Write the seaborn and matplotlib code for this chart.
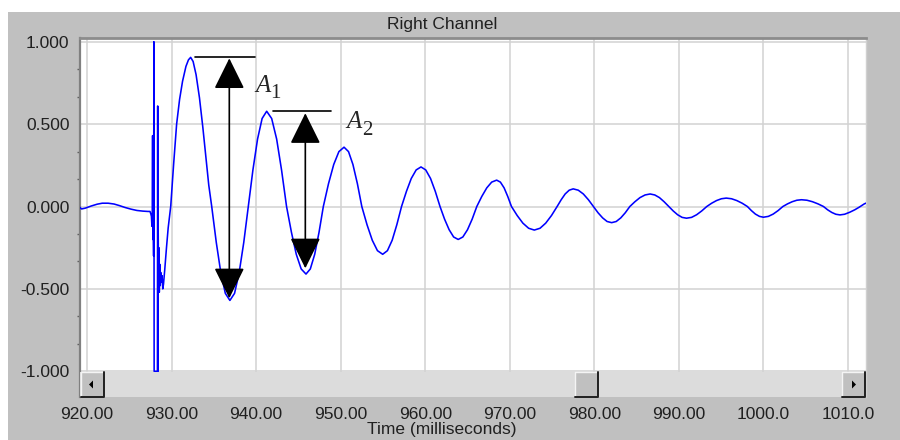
import numpy as np
import pandas as pd
import matplotlib
matplotlib.use("Agg")
import matplotlib.pyplot as plt
from matplotlib.patches import Rectangle, Polygon, ArrowStyle
from matplotlib.ticker import MultipleLocator, FixedLocator
import seaborn as sns

# ---------------- data ----------------
time_ms = [
    919.15, 919.35, 919.8, 920.5, 921.2, 921.8, 922.5, 923.2, 923.8, 924.5,
    925.2, 925.9, 926.6, 927.2, 927.45, 927.55, 927.62, 927.68, 927.72, 927.76,
    927.79, 927.84, 927.88, 927.91, 927.94, 928.05, 928.15, 928.25, 928.33, 928.36,
    928.39, 928.42, 928.46, 928.50, 928.55, 928.60, 928.66, 928.72, 928.80, 928.88,
    928.96, 929.05, 929.2, 929.4, 929.6, 929.9, 930.25, 930.6, 930.95, 931.3,
    931.7, 932.0, 932.26, 932.55, 932.9, 933.3, 933.7, 934.1, 934.4, 934.75,
    935.29, 935.83, 936.36, 936.9, 937.45, 937.99, 938.54, 939.08, 939.62, 940.17,
    940.71, 941.25, 941.84, 942.43, 943.01, 943.6, 944.18, 944.75, 945.33, 945.9,
    946.41, 946.93, 947.44, 947.95, 948.56, 949.18, 949.79, 950.4, 950.93, 951.45,
    951.98, 952.5, 953.12, 953.74, 954.35, 954.97, 955.53, 956.09, 956.64, 957.2,
    957.78, 958.35, 958.93, 959.5, 960.06, 960.63, 961.19, 961.75, 962.29, 962.83,
    963.36, 963.9, 964.45, 965.0, 965.55, 966.1, 966.69, 967.28, 967.86, 968.45,
    968.89, 969.33, 969.76, 970.2, 970.88, 971.55, 972.23, 972.9, 973.58, 974.25,
    974.93, 975.6, 976.08, 976.55, 977.03, 977.5, 978.1, 978.7, 979.3, 979.9,
    980.44, 980.98, 981.51, 982.05, 982.59, 983.13, 983.66, 984.2, 984.8, 985.4,
    986.0, 986.6, 987.15, 987.7, 988.25, 988.8, 989.33, 989.85, 990.38, 990.9,
    991.5, 992.1, 992.7, 993.3, 993.88, 994.45, 995.03, 995.6, 996.23, 996.85,
    997.48, 998.1, 998.58, 999.05, 999.53, 1000.0, 1000.58, 1001.15, 1001.73, 1002.3,
    1002.85, 1003.4, 1003.95, 1004.5, 1005.15, 1005.8, 1006.45, 1007.1, 1007.59, 1008.08,
    1008.56, 1009.05, 1009.6, 1010.2, 1010.8, 1011.3, 1011.9, 1012.1,
]
amplitude = [
    -0.005, -0.015, -0.01, 0.003, 0.014, 0.02, 0.02, 0.015, 0.006, -0.006,
    -0.016, -0.024, -0.028, -0.03, -0.03, -0.045, -0.06, -0.12, -0.05, 0.43,
    -0.20, -0.10, -0.30, 1.0, -1.0, -1.0, -1.0, -1.0, -1.0, 0.61,
    -1.0, -0.15, -0.45, -0.25, -0.52, -0.35, -0.48, -0.40, -0.46, -0.42,
    -0.50, -0.47, -0.38, -0.25, -0.13, 0.0, 0.26, 0.5, 0.65, 0.76,
    0.85, 0.89, 0.905, 0.88, 0.80, 0.66, 0.48, 0.28, 0.13, 0.0,
    -0.218, -0.403, -0.527, -0.57, -0.527, -0.403, -0.218, 0.0, 0.221, 0.409,
    0.534, 0.578, 0.534, 0.409, 0.221, 0.0, -0.157, -0.29, -0.379, -0.41,
    -0.379, -0.29, -0.157, 0.0, 0.138, 0.255, 0.333, 0.36, 0.333, 0.255,
    0.138, 0.0, -0.111, -0.205, -0.268, -0.29, -0.268, -0.205, -0.111, 0.0,
    0.092, 0.17, 0.222, 0.24, 0.222, 0.17, 0.092, 0.0, -0.077, -0.141,
    -0.185, -0.20, -0.185, -0.141, -0.077, 0.0, 0.061, 0.113, 0.148, 0.16,
    0.148, 0.113, 0.061, 0.0, -0.055, -0.101, -0.132, -0.143, -0.132, -0.101,
    -0.055, 0.0, 0.041, 0.076, 0.099, 0.107, 0.099, 0.076, 0.041, 0.0,
    -0.038, -0.069, -0.091, -0.098, -0.091, -0.069, -0.038, 0.0, 0.029, 0.054,
    0.07, 0.076, 0.07, 0.054, 0.029, 0.0, -0.027, -0.05, -0.066, -0.071,
    -0.066, -0.05, -0.027, 0.0, 0.02, 0.036, 0.047, 0.051, 0.047, 0.036,
    0.02, 0.0, -0.025, -0.046, -0.06, -0.065, -0.06, -0.046, -0.025, 0.0,
    0.016, 0.029, 0.038, 0.041, 0.038, 0.029, 0.016, 0.0, -0.02, -0.036,
    -0.047, -0.051, -0.047, -0.035, -0.02, -0.005, 0.015, 0.02,
]

x_ticks = [920, 930, 940, 950, 960, 970, 980, 990, 1000, 1010]
x_tick_labels = ["920.00", "930.00", "940.00", "950.00", "960.00",
                 "970.00", "980.00", "990.00", "1000.0", "1010.0"]
y_ticks = [-1.0, -0.5, 0.0, 0.5, 1.0]
y_tick_labels = ["-1.000", "-0.500", "0.000", "0.500", "1.000"]

title_text = "Right Channel"
xlabel_text = "Time (milliseconds)"

# annotation amplitudes (A1, A2)
a1_time, a1_top, a1_bottom = 936.83, 0.899, -0.557
a1_bar = (932.77, 939.87, 0.905)
a1_label = (939.87, 0.697)
a2_time, a2_top, a2_bottom = 945.82, 0.566, -0.375
a2_bar = (941.96, 948.86, 0.58)
a2_label = (950.71, 0.474)

# ---------------- style ----------------
sns.set_style("white")
plt.rcParams["font.family"] = ["Liberation Sans", "DejaVu Sans"]

W, H = 900, 440
fig = plt.figure(figsize=(W / 100, H / 100), dpi=100, facecolor="white")

# gray window panel
fig.patches.append(Rectangle((8 / W, 0), (W - 8) / W, (H - 12) / H,
                             transform=fig.transFigure, facecolor="#c0c0c0",
                             edgecolor="none", zorder=-10))

# axes area in pixels
ax_l, ax_r, ax_t, ax_b = 80, 866, 38, 397
ax = fig.add_axes([ax_l / W, 1 - ax_b / H, (ax_r - ax_l) / W, (ax_b - ax_t) / H])
ax.set_facecolor("white")

df = pd.DataFrame({"time": time_ms, "amp": amplitude})
sns.lineplot(data=df, x="time", y="amp", ax=ax, color="#0000ff", lw=1.15,
             sort=False, estimator=None, zorder=3)

ax.set_xlim(919.172, 1012.13)
ax.set_ylim(-1.156, 1.0225)

ax.xaxis.set_major_locator(FixedLocator(x_ticks))
ax.set_xticklabels(x_tick_labels)
ax.yaxis.set_major_locator(FixedLocator(y_ticks))
ax.set_yticklabels(y_tick_labels)
ax.yaxis.set_minor_locator(MultipleLocator(0.5 / 3))

ax.grid(True, which="major", color="#d2d2d2", lw=1.1, zorder=0)
ax.set_axisbelow(True)

ax.tick_params(axis="both", which="major", labelsize=12.5, colors="#606060",
               labelcolor="#202020", length=2.5, width=1, direction="out")
ax.tick_params(axis="x", pad=5)
ax.tick_params(axis="y", pad=5)
ax.tick_params(axis="y", which="minor", length=2, width=1, color="#606060", left=True)
ax.set_xlabel("")
ax.set_ylabel("")

for s in ["bottom"]:
    ax.spines[s].set_visible(False)
ax.spines["left"].set_color("#808080")
ax.spines["left"].set_linewidth(1.6)
ax.spines["top"].set_color("#8c8c8c")
ax.spines["top"].set_linewidth(2.0)
ax.spines["right"].set_color("#d0d0d0")
ax.spines["right"].set_linewidth(1.0)

# ---------------- annotations ----------------
head = ArrowStyle("<|-|>", head_length=19.4, head_width=9.6)
for t, top, bot in [(a1_time, a1_top, a1_bottom), (a2_time, a2_top, a2_bottom)]:
    ax.annotate("", xy=(t, bot), xytext=(t, top),
                arrowprops=dict(arrowstyle=head, color="black", lw=1.2,
                                shrinkA=0, shrinkB=0, mutation_scale=1),
                zorder=5)
for x0, x1, yb in [a1_bar, a2_bar]:
    ax.plot([x0, x1], [yb, yb], color="black", lw=1.2, zorder=5)

for (lx, ly), sub in [(a1_label, "1"), (a2_label, "2")]:
    ax.text(lx, ly, "A", family="Liberation Serif", style="italic", fontsize=18,
            ha="left", va="baseline", zorder=6)
    ax.annotate(sub, xy=(lx, ly), xytext=(10.8, -4.8), textcoords="offset points",
                family="Liberation Serif", fontsize=15, ha="left", va="baseline",
                zorder=6)

# ---------------- scrollbar ----------------
def fx(px):
    return (px - ax_l) / (ax_r - ax_l)

def fy(py):
    return (ax_b - py) / (ax_b - ax_t)

sb_top, sb_bot = 372, 397
tr = ax.transAxes
ax.add_patch(Rectangle((fx(80), fy(sb_bot)), fx(866) - fx(80), fy(sb_top) - fy(sb_bot),
                       transform=tr, facecolor="#dcdcdc", edgecolor="none",
                       zorder=10, clip_on=False))

def button(x0, x1):
    ax.add_patch(Rectangle((fx(x0), fy(sb_bot)), fx(x1) - fx(x0), fy(sb_top) - fy(sb_bot),
                           transform=tr, facecolor="#c0c0c0", edgecolor="none",
                           zorder=11, clip_on=False))
    # light top/left edges
    ax.plot([fx(x0), fx(x0), fx(x1)], [fy(sb_bot), fy(sb_top), fy(sb_top)],
            transform=tr, color="#f4f4f4", lw=1.0, zorder=12, clip_on=False)
    # dark bottom/right edges
    ax.plot([fx(x0), fx(x1), fx(x1)], [fy(sb_bot - 0.5), fy(sb_bot - 0.5), fy(sb_top)],
            transform=tr, color="#202020", lw=1.4, zorder=12, clip_on=False)

button(81, 104)
button(842, 865)
button(575, 598)

cy = (sb_top + sb_bot) / 2
ax.add_patch(Polygon([(fx(89), fy(cy)), (fx(93), fy(cy - 4)), (fx(93), fy(cy + 4))],
                     closed=True, transform=tr, facecolor="black", edgecolor="none",
                     zorder=13, clip_on=False))
ax.add_patch(Polygon([(fx(856), fy(cy)), (fx(852), fy(cy - 4)), (fx(852), fy(cy + 4))],
                     closed=True, transform=tr, facecolor="black", edgecolor="none",
                     zorder=13, clip_on=False))

# ---------------- titles ----------------
fig.text(442 / W, 1 - 24 / H, title_text, ha="center", va="center",
         fontsize=12.5, color="#202020")
fig.text(442 / W, 1 - 429 / H, xlabel_text, ha="center", va="center",
         fontsize=12.5, color="#202020")

fig.savefig("out.png", dpi=100, facecolor="white")
